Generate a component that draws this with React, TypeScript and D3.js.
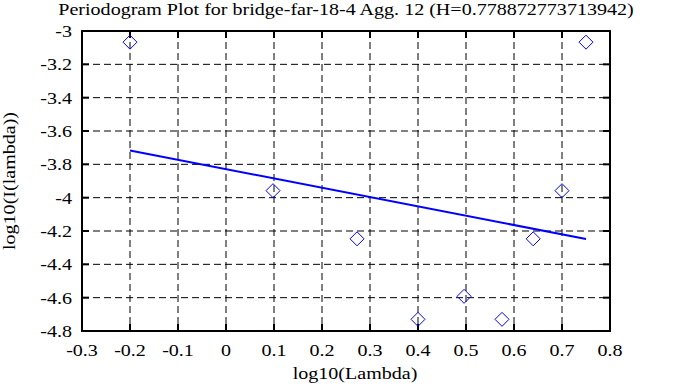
import * as d3 from "d3";

const title = "Periodogram Plot for bridge-far-18-4 Agg. 12 (H=0.778872773713942)";
const xTicks = [-0.3, -0.2, -0.1, 0, 0.1, 0.2, 0.3, 0.4, 0.5, 0.6, 0.7, 0.8];
const yTicks = [-3, -3.2, -3.4, -3.6, -3.8, -4, -4.2, -4.4, -4.6, -4.8];
const logLambda = [-0.2, 0.098, 0.273, 0.4, 0.496, 0.575, 0.64, 0.7, 0.75];
const logPower = [-3.067, -3.958, -4.247, -4.73, -4.592, -4.73, -4.247, -3.958, -3.067];
const fitX = [-0.2, 0.75];
const fitY = [-3.717, -4.248];

const W = 683;
const H = 387;
const margin = { left: 82, right: 610, top: 31, bottom: 331 };
const fs = 17;
const stretch = 1.18; // the reference glyphs are wider than Times

const x = d3.scaleLinear().domain([-0.3, 0.8]).range([margin.left, margin.right]);
const y = d3.scaleLinear().domain([-4.8, -3]).range([margin.bottom, margin.top]);

const Label = ({ tx, ty, text, anchor, rot = 0 }: { tx: number; ty: number; text: string; anchor: string; rot?: number }) => (
    <text
        transform={`translate(${tx},${ty}) rotate(${rot}) scale(${stretch},1)`}
        textAnchor={anchor}
        fontFamily="Liberation Serif"
        fontSize={fs}
        fill="black"
    >
        {text}
    </text>
);

const App = () => {
    const line = d3.line<number>().x((d, i) => x(fitX[i])).y(d => y(d));
    const s = 7;
    const diamond = (cx: number, cy: number) =>
        `M${cx},${cy - s}L${cx + s},${cy}L${cx},${cy + s}L${cx - s},${cy}Z`;

    return (
        <svg width={W} height={H} style={{ position: "absolute", left: 0, top: 0, background: "white" }}>
            {/* grid */}
            <g stroke="black" strokeWidth={1} strokeDasharray="7,4">
                {xTicks.slice(1, -1).map(t => (
                    <line key={"gx" + t} x1={x(t)} x2={x(t)} y1={margin.top} y2={margin.bottom} />
                ))}
                {yTicks.slice(1, -1).map(t => (
                    <line key={"gy" + t} x1={margin.left} x2={margin.right} y1={y(t)} y2={y(t)} />
                ))}
            </g>
            {/* tick marks on all four sides */}
            <g stroke="black" strokeWidth={2}>
                {xTicks.map(t => (
                    <g key={"tx" + t}>
                        <line x1={x(t)} x2={x(t)} y1={margin.bottom} y2={margin.bottom - 7} />
                        <line x1={x(t)} x2={x(t)} y1={margin.top} y2={margin.top + 7} />
                    </g>
                ))}
                {yTicks.map(t => (
                    <g key={"ty" + t}>
                        <line x1={margin.left} x2={margin.left + 7} y1={y(t)} y2={y(t)} />
                        <line x1={margin.right} x2={margin.right - 7} y1={y(t)} y2={y(t)} />
                    </g>
                ))}
            </g>
            <rect x={margin.left} y={margin.top} width={margin.right - margin.left}
                height={margin.bottom - margin.top} fill="none" stroke="black" strokeWidth={2} />

            {xTicks.map(t => <Label key={"lx" + t} tx={x(t)} ty={356} text={String(t)} anchor="middle" />)}
            {yTicks.map(t => <Label key={"ly" + t} tx={72} ty={y(t) + 6} text={String(t)} anchor="end" />)}

            <path d={line(fitY) ?? ""} fill="none" stroke="#0000ff" strokeWidth={2} />
            {logPower.map((d, i) => (
                <path key={"p" + i} d={diamond(x(logLambda[i]), y(d))} fill="none" stroke="#0000ff" strokeWidth={1} />
            ))}

            <Label tx={(margin.left + margin.right) / 2} ty={15} text={title} anchor="middle" />
            <Label tx={355} ty={379} text="log10(Lambda)" anchor="middle" />
            <Label tx={15} ty={(margin.top + margin.bottom) / 2} text="log10(I(lambda))" anchor="middle" rot={-90} />
        </svg>
    );
};

export default App;
